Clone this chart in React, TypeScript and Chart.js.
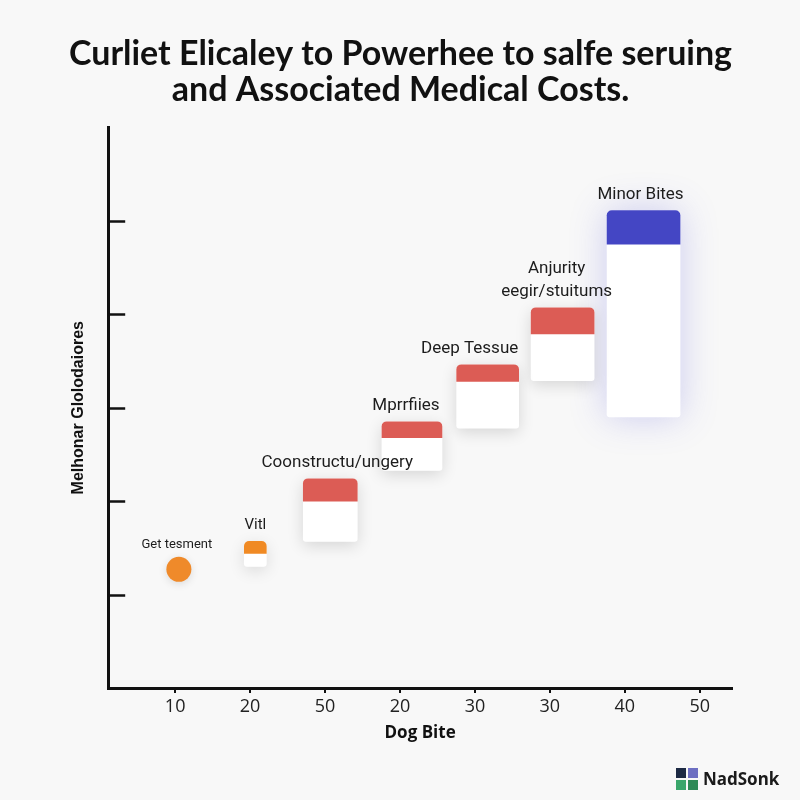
import React, { useEffect, useRef } from 'react';
import { Chart, registerables } from 'chart.js';

Chart.register(...registerables);

// ---- data ----
const titleLines = ['Curliet Elicaley to Powerhee to salfe seruing', 'and Associated Medical Costs.'];
const xAxisTitle = 'Dog Bite';
const yAxisTitle = 'Melhonar Glolodaiores';
const xTickValues = [1, 2, 3, 4, 5, 6, 7, 8];
const xTickLabels = ['10', '20', '50', '20', '30', '30', '40', '50'];
const yTickValues = [10, 20, 30, 40, 50];

const pointLabel = 'Get tesment';
const pointX = 1.05;
const pointY = 12.7;

const barLabels = [['Vitl'], ['Coonstructu/ungery'], ['Mprrfiies'], ['Deep Tessue'], ['Anjurity', 'eegir/stuitums'], ['Minor Bites']];
const barX = [2.07, 3.07, 4.16, 5.17, 6.17, 7.25];
const barBottom = [13.0, 15.7, 23.3, 27.8, 32.9, 29.0];
const barSplit = [14.4, 20.0, 26.8, 32.8, 37.9, 47.5];
const barTop = [15.7, 22.4, 28.5, 34.6, 40.7, 51.1];

// ---- styles ----
const barWidths = [22, 54, 60, 62, 63, 73];
const capColors = ['#f08a24', '#dc5c55', '#dc5c55', '#dc5c55', '#dc5c55', '#4446c4'];
const glowColors = ['rgba(0,0,0,0.12)', 'rgba(0,0,0,0.14)', 'rgba(0,0,0,0.14)', 'rgba(0,0,0,0.14)', 'rgba(0,0,0,0.14)', 'rgba(90,90,220,0.28)'];
const labelShift = [0, 7, -6, -18, -6, -3];
const labelFont = '17px Roboto';
const smallLabelFont = '13px Roboto';

const shadowPlugin = {
  id: 'shadowPlugin',
  beforeDatasetDraw(chart: any, args: any) {
    const ds = chart.data.datasets[args.index];
    if (ds.shadowColor) {
      const ctx = chart.ctx;
      ctx.save();
      ctx.shadowColor = ds.shadowColor;
      ctx.shadowBlur = ds.shadowBlur || 14;
      ctx.shadowOffsetY = ds.shadowOffsetY || 0;
    }
  },
  afterDatasetDraw(chart: any, args: any) {
    const ds = chart.data.datasets[args.index];
    if (ds.shadowColor) chart.ctx.restore();
  },
};

const yTickPlugin = {
  id: 'yTickPlugin',
  afterDraw(chart: any) {
    const ctx = chart.ctx;
    const y = chart.scales.y;
    const left = chart.chartArea.left;
    ctx.save();
    ctx.strokeStyle = '#111';
    ctx.lineWidth = 2.5;
    y.ticks.forEach((t: any) => {
      const py = Math.round(y.getPixelForValue(t.value)) + 0.5;
      ctx.beginPath();
      ctx.moveTo(left, py);
      ctx.lineTo(left + 17, py);
      ctx.stroke();
    });
    ctx.restore();
  },
};

const labelPlugin = {
  id: 'labelPlugin',
  afterDatasetsDraw(chart: any) {
    const ctx = chart.ctx;
    ctx.save();
    ctx.fillStyle = '#1c1c1c';
    ctx.textAlign = 'center';
    ctx.textBaseline = 'middle';
    const pm = chart.getDatasetMeta(0).data[0];
    if (pm) {
      ctx.font = smallLabelFont;
      ctx.fillText(pointLabel, pm.x - 2, pm.y - 25);
    }
    barLabels.forEach((lines, i) => {
      const meta = chart.getDatasetMeta(1 + i * 2 + 1);
      const el = meta.data[0];
      if (!el) return;
      ctx.font = i === 0 ? '15px Roboto' : labelFont;
      const gap = 16;
      const lh = 23;
      lines.forEach((line, j) => {
        const yy = el.y - gap - (lines.length - 1 - j) * lh;
        ctx.fillText(line, el.x + labelShift[i], yy);
      });
    });
    ctx.restore();
  },
};

export default function App() {
  const ref = useRef<HTMLCanvasElement>(null);
  useEffect(() => {
    if (!ref.current) return;
    const datasets: any[] = [
      {
        type: 'scatter',
        data: [{ x: pointX, y: pointY }],
        backgroundColor: '#ef8a2a',
        borderWidth: 0,
        pointRadius: 12.5,
        pointHoverRadius: 12.5,
        order: 0,
        shadowColor: 'rgba(0,0,0,0.12)',
        shadowBlur: 8,
        shadowOffsetY: 2,
      },
    ];
    barX.forEach((x, i) => {
      datasets.push({
        type: 'bar',
        data: [{ x, y: [barBottom[i], barTop[i]] }],
        backgroundColor: '#ffffff',
        barThickness: barWidths[i],
        borderSkipped: false,
        borderRadius: { topLeft: 5, topRight: 5, bottomLeft: 3, bottomRight: 3 },
        order: 2,
        shadowColor: glowColors[i],
        shadowBlur: i === 5 ? 36 : 16,
        shadowOffsetY: i === 5 ? 0 : 4,
      });
      datasets.push({
        type: 'bar',
        data: [{ x, y: [barSplit[i], barTop[i]] }],
        backgroundColor: capColors[i],
        barThickness: barWidths[i],
        borderSkipped: false,
        borderRadius: { topLeft: 5, topRight: 5, bottomLeft: 0, bottomRight: 0 },
        order: 1,
      });
    });

    const chart = new Chart(ref.current, {
      type: 'bar',
      data: { datasets },
      options: {
        responsive: false,
        animation: false,
        layout: { padding: { left: 69, right: 68, top: 0, bottom: 57 } },
        plugins: {
          legend: { display: false },
          tooltip: { enabled: false },
          title: {
            display: true,
            text: titleLines,
            color: '#111',
            font: { family: 'Lato', size: 34, weight: 'bold', lineHeight: 1.05 },
            padding: { top: 36, bottom: 20 },
          },
        },
        scales: {
          x: {
            type: 'linear',
            min: 0.107,
            max: 8.43,
            offset: false,
            stacked: true,
            afterBuildTicks: (s: any) => {
              s.ticks = xTickValues.map((v) => ({ value: v }));
            },
            ticks: {
              callback: (_v: any, i: number) => xTickLabels[i],
              color: '#222',
              font: { family: '"Open Sans"', size: 18 },
              padding: 3,
              autoSkip: false,
              maxRotation: 0,
            },
            grid: { offset: false, drawOnChartArea: false, drawTicks: true, tickLength: 5, color: '#111', lineWidth: 2 },
            border: { color: '#111', width: 3 },
            title: {
              display: true,
              text: xAxisTitle,
              color: '#111',
              font: { family: '"Open Sans"', size: 17, weight: 'bold', lineHeight: 1.2 },
              padding: { top: 2, bottom: 0 },
            },
          },
          y: {
            type: 'linear',
            min: 0,
            max: 60,
            stacked: false,
            afterBuildTicks: (s: any) => {
              s.ticks = yTickValues.map((v) => ({ value: v }));
            },
            ticks: { display: false },
            grid: { drawOnChartArea: false, drawTicks: false },
            border: { color: '#111', width: 3 },
            title: {
              display: true,
              text: yAxisTitle,
              color: '#111',
              font: { family: '"Liberation Sans"', size: 16, weight: 'bold', lineHeight: 1.2 },
              padding: { top: 0, bottom: 20 },
            },
          },
        },
      } as any,
      plugins: [shadowPlugin, yTickPlugin, labelPlugin],
    });
    return () => chart.destroy();
  }, []);

  return (
    <div style={{ position: 'fixed', left: 0, top: 0, width: 800, height: 800, background: '#f8f8f8' }}>
      <canvas ref={ref} width={800} height={800} style={{ position: 'absolute', left: 0, top: 0 }} />
      <div style={{ position: 'absolute', left: 676, top: 768, width: 22, height: 22 }}>
        <div style={{ position: 'absolute', left: 0, top: 0, width: 10, height: 10, background: '#1d2a44' }} />
        <div style={{ position: 'absolute', left: 12, top: 0, width: 10, height: 10, background: '#6d6fc2' }} />
        <div style={{ position: 'absolute', left: 0, top: 12, width: 10, height: 10, background: '#3aa66b' }} />
        <div style={{ position: 'absolute', left: 12, top: 12, width: 10, height: 10, background: '#2e8a57' }} />
      </div>
      <div
        style={{
          position: 'absolute',
          left: 703,
          top: 768,
          height: 22,
          lineHeight: '22px',
          fontFamily: '"Noto Sans", sans-serif',
          fontWeight: 700,
          fontSize: 17,
          color: '#1a1a1a',
        }}
      >
        NadSonk
      </div>
    </div>
  );
}
